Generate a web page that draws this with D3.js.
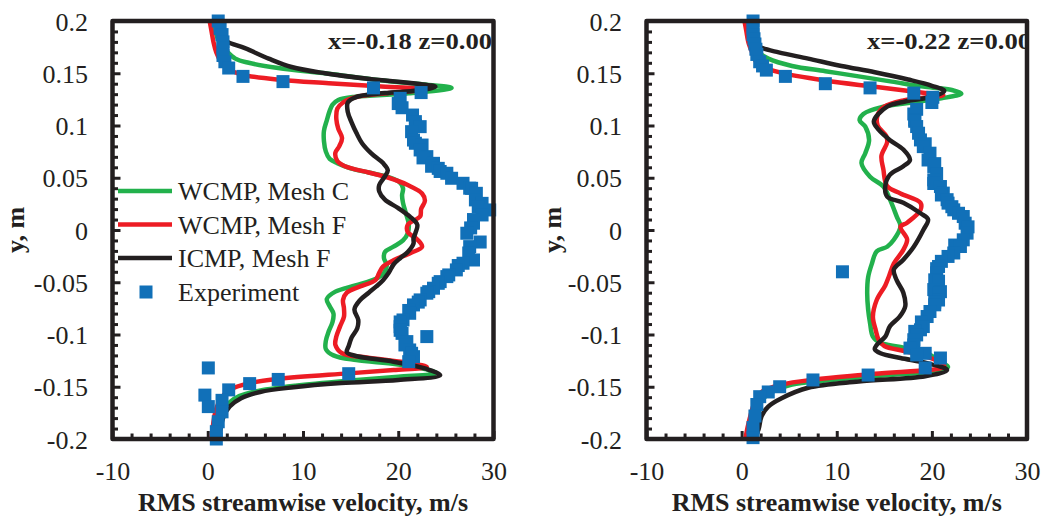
<!DOCTYPE html>
<html>
<head>
<meta charset="utf-8">
<script src="https://cdn.jsdelivr.net/npm/d3@7"></script>
<style>
body { margin: 0; background: #fff; }
svg text { font-family: "Liberation Serif", "Times New Roman", serif; fill: #231f20; }
</style>
</head>
<body>
<svg id="chart" width="1046" height="517"></svg>
<script>
// values, pairs are [RMS velocity m/s, y m]

// x = -0.18 panel
var leftMeshC = [[0.5,0.2],[0.8,0.19],[1.2,0.18],[2.0,0.171],[2.9,0.164],[4.3,0.16],[7.4,0.155],[12.7,0.1495],[17.9,0.1435],[23.2,0.1388],[25.6,0.136],[21.1,0.1308],[15.5,0.1276],[13.7,0.1244],[13.1,0.12],[12.8,0.114],[12.5,0.105],[12.2,0.095],[12.2,0.085],[12.4,0.075],[12.8,0.068],[13.6,0.064],[15.0,0.059],[16.9,0.055],[19.0,0.0505],[20.1,0.046],[20.5,0.04],[20.4,0.033],[20.5,0.026],[20.8,0.016],[21.1,0.006],[21.0,-0.003],[20.5,-0.01],[19.5,-0.016],[18.6,-0.021],[18.5,-0.027],[18.8,-0.034],[18.5,-0.041],[17.6,-0.047],[15.5,-0.053],[13.4,-0.059],[12.5,-0.066],[12.8,-0.073],[13.2,-0.08],[13.1,-0.088],[12.7,-0.097],[12.4,-0.106],[12.4,-0.114],[13.2,-0.12],[15.6,-0.1245],[19.8,-0.1285],[23.2,-0.134],[24.0,-0.137],[20.0,-0.1405],[15.0,-0.144],[9.2,-0.149],[5.0,-0.1545],[3.3,-0.159],[2.3,-0.165],[1.7,-0.174],[1.2,-0.187],[0.9,-0.2]];
var leftMeshF = [[0.2,0.2],[0.4,0.19],[0.6,0.18],[0.9,0.17],[1.4,0.161],[2.0,0.155],[3.5,0.149],[7.8,0.1435],[12.7,0.1405],[17.9,0.1375],[22.8,0.1345],[19.0,0.131],[15.5,0.127],[14.2,0.122],[13.6,0.116],[13.5,0.106],[13.7,0.097],[14.1,0.088],[13.8,0.08],[13.4,0.074],[13.6,0.066],[14.4,0.061],[16.9,0.055],[19.0,0.05],[21.0,0.043],[22.5,0.035],[22.8,0.028],[22.4,0.02],[22.3,0.013],[21.0,0.005],[21.0,-0.002],[22.0,-0.009],[22.5,-0.016],[21.3,-0.022],[19.5,-0.029],[18.4,-0.035],[18.0,-0.041],[17.6,-0.048],[16.0,-0.054],[14.6,-0.06],[14.2,-0.067],[14.3,-0.075],[14.3,-0.083],[13.9,-0.092],[13.5,-0.102],[13.4,-0.11],[14.1,-0.118],[16.7,-0.122],[20.9,-0.127],[23.0,-0.131],[19.5,-0.134],[14.8,-0.1372],[7.4,-0.1425],[4.4,-0.1465],[2.3,-0.153],[1.4,-0.161],[0.8,-0.174],[0.4,-0.2]];
var leftIcmp = [[0.9,0.2],[1.1,0.19],[1.5,0.184],[2.1,0.18],[3.9,0.174],[6.4,0.164],[8.8,0.156],[12.3,0.15],[17.0,0.1445],[22.0,0.14],[23.9,0.137],[22.0,0.1335],[18.6,0.131],[15.5,0.127],[14.7,0.122],[14.7,0.113],[15.1,0.103],[15.6,0.093],[16.2,0.083],[17.2,0.073],[18.4,0.064],[18.9,0.057],[18.5,0.05],[18.0,0.043],[18.0,0.037],[18.6,0.029],[20.0,0.021],[21.2,0.013],[22.0,0.005],[21.8,-0.003],[21.6,-0.008],[21.6,-0.013],[21.0,-0.021],[20.2,-0.027],[19.5,-0.033],[19.0,-0.041],[18.4,-0.048],[17.7,-0.054],[16.9,-0.06],[16.0,-0.067],[15.4,-0.076],[15.8,-0.086],[15.7,-0.094],[15.1,-0.103],[14.8,-0.111],[14.6,-0.117],[15.8,-0.121],[19.5,-0.126],[23.0,-0.133],[24.4,-0.139],[20.0,-0.1435],[14.0,-0.1465],[9.0,-0.1505],[5.5,-0.155],[3.5,-0.161],[2.3,-0.169],[1.6,-0.18],[1.2,-0.2]];
var leftExp = [[1.1,0.2],[1.3,0.193],[1.5,0.187],[1.6,0.18],[1.6,0.174],[1.6,0.167],[1.8,0.161],[2.2,0.155],[3.7,0.147],[7.9,0.142],[17.4,0.136],[22.4,0.1315],
    [20.2,0.126],[20.0,0.121],[20.4,0.117],[21.5,0.11],[21.8,0.1037],[21.8,0.1],[22.3,0.0989],[21.4,0.0941],[21.6,0.0861],[21.8,0.083],[22.5,0.0813],[22.3,0.0766],[23.0,0.0702],[22.6,0.069],[23.7,0.0638],[23.5,0.061],[24.2,0.059],[24.4,0.056],[25.1,0.0543],[25.6,0.0495],[26.8,0.0447],[27.5,0.04],[27.7,0.0399],[28.2,0.0351],[28.1,0.0288],[28.8,0.0255],[28.4,0.0224],[29.6,0.0192],[28.8,0.0144],[27.9,0.01],[27.9,0.0065],[27.6,0.002],[27.2,-0.0031],[28.6,-0.0115],[27.5,-0.0159],[27.4,-0.022],[27.9,-0.0287],[26.8,-0.0318],[26.3,-0.034],[26.1,-0.0382],[25.3,-0.043],[25.1,-0.0446],[24.4,-0.0494],[24.2,-0.051],[23.7,-0.0557],[23.2,-0.059],[23.0,-0.0605],[22.3,-0.0669],[22.1,-0.069],[21.6,-0.0717],[21.1,-0.077],[21.2,-0.0797],[20.5,-0.0861],[20.2,-0.088],[20.2,-0.0925],[20.2,-0.096],[20.4,-0.0989],[23.0,-0.102],[20.9,-0.1068],[20.7,-0.11],[21.2,-0.1148],[21.4,-0.118],[21.6,-0.1212],[21.1,-0.126],
    [14.8,-0.1375],[7.4,-0.143],[4.4,-0.147],[2.2,-0.153],[-0.3,-0.158],[0.06,-0.132],[1.5,-0.163],[0.06,-0.169],[1.5,-0.174],[1.1,-0.1835],[0.9,-0.193],[0.9,-0.2]];

// x = -0.22 panel
var rightMeshC = [[0.5,0.2],[0.8,0.19],[1.2,0.18],[1.8,0.17],[2.8,0.164],[5.3,0.157],[8.8,0.152],[12.3,0.147],[15.8,0.142],[19.3,0.137],[22.1,0.134],[23.1,0.1305],[21.0,0.126],[17.9,0.122],[14.9,0.118],[12.8,0.111],[12.4,0.105],[13.0,0.099],[13.4,0.086],[13.0,0.0735],[12.6,0.064],[13.5,0.051],[14.9,0.0416],[15.6,0.029],[16.3,0.013],[16.7,0.0034],[16.0,-0.0094],[15.3,-0.016],[14.2,-0.0205],[13.7,-0.032],[13.3,-0.045],[13.2,-0.06],[13.3,-0.076],[13.5,-0.089],[13.8,-0.102],[14.6,-0.108],[16.7,-0.112],[19.5,-0.118],[20.9,-0.126],[21.7,-0.131],[20.0,-0.1355],[15.1,-0.139],[8.8,-0.144],[5.3,-0.148],[3.2,-0.155],[2.3,-0.161],[1.6,-0.174],[1.1,-0.2]];
var rightMeshF = [[0.3,0.2],[0.5,0.19],[0.7,0.18],[1.1,0.17],[1.6,0.16],[3.5,0.152],[8.8,0.143],[14.0,0.137],[19.3,0.131],[21.2,0.129],[17.0,0.124],[15.0,0.118],[14.3,0.11],[14.3,0.1],[15.2,0.09],[15.3,0.084],[14.7,0.071],[14.9,0.058],[15.3,0.042],[16.7,0.035],[18.8,0.026],[18.8,0.019],[17.4,0.007],[16.7,0.003],[17.4,-0.009],[17.0,-0.019],[16.0,-0.032],[15.5,-0.044],[15.1,-0.053],[14.2,-0.067],[13.8,-0.083],[14.1,-0.096],[14.4,-0.105],[15.0,-0.111],[17.2,-0.116],[20.0,-0.123],[21.3,-0.1305],[14.0,-0.1375],[7.7,-0.143],[4.2,-0.148],[2.1,-0.155],[1.4,-0.164],[0.7,-0.186],[0.4,-0.2]];
var rightIcmp = [[0.8,0.2],[1.0,0.19],[1.4,0.178],[2.2,0.174],[3.9,0.17],[7.0,0.164],[10.5,0.157],[14.0,0.151],[17.5,0.144],[20.0,0.138],[21.3,0.133],[20.0,0.1275],[17.2,0.123],[15.3,0.118],[13.9,0.104],[14.4,0.096],[15.6,0.086],[17.0,0.077],[17.7,0.067],[17.0,0.061],[15.6,0.053],[15.1,0.042],[15.3,0.032],[17.0,0.026],[18.8,0.016],[19.6,0.01],[19.1,0.0],[18.1,-0.016],[17.0,-0.0285],[16.0,-0.038],[16.3,-0.048],[17.0,-0.06],[17.2,-0.073],[16.6,-0.083],[15.6,-0.092],[15.1,-0.102],[14.2,-0.11],[14.0,-0.114],[14.6,-0.118],[16.7,-0.1225],[19.5,-0.1275],[21.6,-0.134],[19.3,-0.14],[12.3,-0.145],[7.0,-0.151],[4.2,-0.161],[2.8,-0.169],[2.1,-0.178],[1.8,-0.19],[1.4,-0.2]];
var rightExp = [[1.2,0.2],[1.2,0.193],[1.2,0.187],[1.3,0.183],[1.4,0.178],[1.5,0.173],[1.6,0.168],[1.9,0.161],[2.2,0.157],[2.6,0.153],[4.6,0.147],[8.8,0.14],[13.5,0.136],[18.1,0.131],[20.1,0.127],[20.0,0.122],[18.4,0.1155],[18.1,0.111],[18.2,0.1053],[18.2,0.104],[18.4,0.099],[18.6,0.0926],[18.8,0.0862],[19.3,0.0825],[19.1,0.0798],[19.8,0.0735],[19.6,0.067],[20.3,0.0635],[20.2,0.0608],[20.5,0.054],[20.2,0.048],[20.2,0.0445],[20.9,0.0416],[21.2,0.0353],[21.0,0.0335],[21.6,0.029],[21.7,0.0257],[22.1,0.0223],[22.3,0.0193],[22.8,0.016],[23.3,0.0129],[23.5,0.0065],[23.8,0.003],[23.7,-0.003],[23.3,-0.0094],[22.4,-0.0144],[23.0,-0.0158],[22.3,-0.022],[21.7,-0.0253],[21.0,-0.03],[20.7,-0.0349],[20.5,-0.037],[20.5,-0.041],[20.3,-0.0477],[20.7,-0.049],[20.2,-0.057],[20.9,-0.059],[20.7,-0.0605],[20.7,-0.067],[20.3,-0.069],[20.3,-0.0716],[19.8,-0.078],[19.5,-0.0828],[18.9,-0.088],[19.1,-0.0924],[18.8,-0.0955],[18.2,-0.097],[18.4,-0.1004],[18.1,-0.105],[18.1,-0.11],[17.7,-0.113],[19.3,-0.118],[18.4,-0.1195],[20.9,-0.1225],[19.3,-0.132],[13.3,-0.1388],[7.5,-0.1435],[4.0,-0.15],[2.8,-0.155],[1.9,-0.1595],[1.6,-0.167],[1.4,-0.178],[1.2,-0.189],[1.2,-0.1987],[10.6,-0.04]];

var seriesNames = ["WCMP, Mesh C", "WCMP, Mesh F", "ICMP, Mesh F", "Experiment"];
var seriesColors = ["#22b14c", "#ed1c24", "#231f20", "#1170b8"];

var xTicks = [-10, 0, 10, 20, 30];
var xTickLabels = ["-10", "0", "10", "20", "30"];
var yTicks = [-0.2, -0.15, -0.1, -0.05, 0, 0.05, 0.1, 0.15, 0.2];
var yTickLabels = ["-0.2", "-0.15", "-0.1", "-0.05", "0", "0.05", "0.1", "0.15", "0.2"];
var panelTitles = ["x=-0.18 z=0.00", "x=-0.22 z=0.00"];

var ink = "#231f20";
var plotTop = 21, plotBottom = 439;

var panels = [
    {title: panelTitles[0], left: 112.5, right: 493.5, titleX: 328, yLabelX: 24,
        lines: [leftMeshC, leftMeshF, leftIcmp], exp: leftExp, legend: true},
    {title: panelTitles[1], left: 646.5, right: 1027, titleX: 867, yLabelX: 561,
        lines: [rightMeshC, rightMeshF, rightIcmp], exp: rightExp, legend: false}
];

var svg = d3.select("#chart");

function styleTicks(sel, width){
    sel.select(".domain").remove();
    sel.selectAll(".tick line").attr("stroke", ink).attr("stroke-width", width);
}

function drawPanel(p, idx){
    var x = d3.scaleLinear().domain([-10, 30]).range([p.left, p.right]);
    var y = d3.scaleLinear().domain([-0.2, 0.2]).range([plotBottom, plotTop]);
    var g = svg.append("g").attr("class", "panel" + idx);

    // minor ticks, pointing inward
    var yMinor = d3.range(-19, 20).map(function(k){ return k / 100; })
        .filter(function(v){ return Math.abs(v * 20 - Math.round(v * 20)) > 1e-6; });
    var xMinor = d3.range(-8, 30, 2).filter(function(v){ return v % 10 !== 0; });

    g.append("g").attr("transform", "translate(" + p.left + ",0)")
        .call(d3.axisLeft(y).tickValues(yMinor).tickSize(-5.5).tickFormat(""))
        .call(styleTicks, 3);
    g.append("g").attr("transform", "translate(0," + plotBottom + ")")
        .call(d3.axisBottom(x).tickValues(xMinor).tickSize(-5.5).tickFormat(""))
        .call(styleTicks, 3);

    // major ticks + labels
    var yAxis = g.append("g").attr("transform", "translate(" + p.left + ",0)")
        .call(d3.axisLeft(y).tickValues(yTicks).tickSize(-8).tickPadding(24.5)
            .tickFormat(function(d){ return yTickLabels[yTicks.indexOf(d)]; }))
        .call(styleTicks, 3);
    yAxis.selectAll("text").attr("font-size", 26).attr("dy", "0.35em")
        .attr("font-family", null).attr("fill", ink);

    var xAxis = g.append("g").attr("transform", "translate(0," + plotBottom + ")")
        .call(d3.axisBottom(x).tickValues(xTicks).tickSize(-8).tickPadding(22.5)
            .tickFormat(function(d){ return xTickLabels[xTicks.indexOf(d)]; }))
        .call(styleTicks, 3);
    xAxis.selectAll("text").attr("font-size", 26).attr("font-family", null).attr("fill", ink);

    // simulation profiles
    var line = d3.line()
        .x(function(d){ return x(d[0]); })
        .y(function(d){ return y(d[1]); })
        .curve(d3.curveCatmullRom.alpha(0.5));

    g.selectAll("path.profile")
        .data(p.lines)
        .enter()
        .append("path")
        .attr("class", "profile")
        .attr("d", line)
        .attr("fill", "none")
        .attr("stroke", function(d, i){ return seriesColors[i]; })
        .attr("stroke-width", 4.5)
        .attr("stroke-linejoin", "round");

    // experiment
    var s = 13;
    g.selectAll("rect.exp")
        .data(p.exp)
        .enter()
        .append("rect")
        .attr("class", "exp")
        .attr("x", function(d){ return x(d[0]) - s / 2; })
        .attr("y", function(d){ return y(d[1]) - s / 2; })
        .attr("width", s)
        .attr("height", s)
        .attr("fill", seriesColors[3]);

    // title, cut off by the frame on the right panel
    g.append("clipPath").attr("id", "clip" + idx)
        .append("rect")
        .attr("x", p.left).attr("y", plotTop)
        .attr("width", p.right - p.left).attr("height", plotBottom - plotTop);
    g.append("text")
        .attr("clip-path", "url(#clip" + idx + ")")
        .attr("x", p.titleX)
        .attr("y", 49)
        .attr("font-size", 24)
        .attr("font-weight", "bold")
        .attr("textLength", 164)
        .attr("lengthAdjust", "spacingAndGlyphs")
        .text(p.title);

    // frame
    g.append("rect")
        .attr("x", p.left).attr("y", plotTop)
        .attr("width", p.right - p.left).attr("height", plotBottom - plotTop)
        .attr("fill", "none")
        .attr("stroke", ink)
        .attr("stroke-width", 4.5)
        .attr("stroke-linejoin", "round");

    // axis titles
    g.append("text")
        .attr("x", (p.left + p.right) / 2)
        .attr("y", 511)
        .attr("text-anchor", "middle")
        .attr("font-size", 26)
        .attr("font-weight", "bold")
        .text("RMS streamwise velocity, m/s");
    g.append("text")
        .attr("transform", "translate(" + p.yLabelX + "," + (plotTop + plotBottom) / 2 + ") rotate(-90)")
        .attr("text-anchor", "middle")
        .attr("font-size", 26)
        .attr("font-weight", "bold")
        .text("y, m");

    if(p.legend){
        var rows = [191, 224.5, 258, 292];
        var lg = g.append("g").attr("class", "legend");
        lg.selectAll("line")
            .data(rows.slice(0, 3))
            .enter()
            .append("line")
            .attr("x1", 118).attr("x2", 172)
            .attr("y1", function(d){ return d; }).attr("y2", function(d){ return d; })
            .attr("stroke", function(d, i){ return seriesColors[i]; })
            .attr("stroke-width", 4.5);
        lg.append("rect")
            .attr("x", 146 - s / 2).attr("y", rows[3] - s / 2)
            .attr("width", s).attr("height", s)
            .attr("fill", seriesColors[3]);
        lg.selectAll("text")
            .data(seriesNames)
            .enter()
            .append("text")
            .attr("x", 178)
            .attr("y", function(d, i){ return rows[i]; })
            .attr("dy", "0.35em")
            .attr("font-size", 26)
            .text(function(d){ return d; });
    }
}

panels.forEach(drawPanel);
</script>
</body>
</html>
